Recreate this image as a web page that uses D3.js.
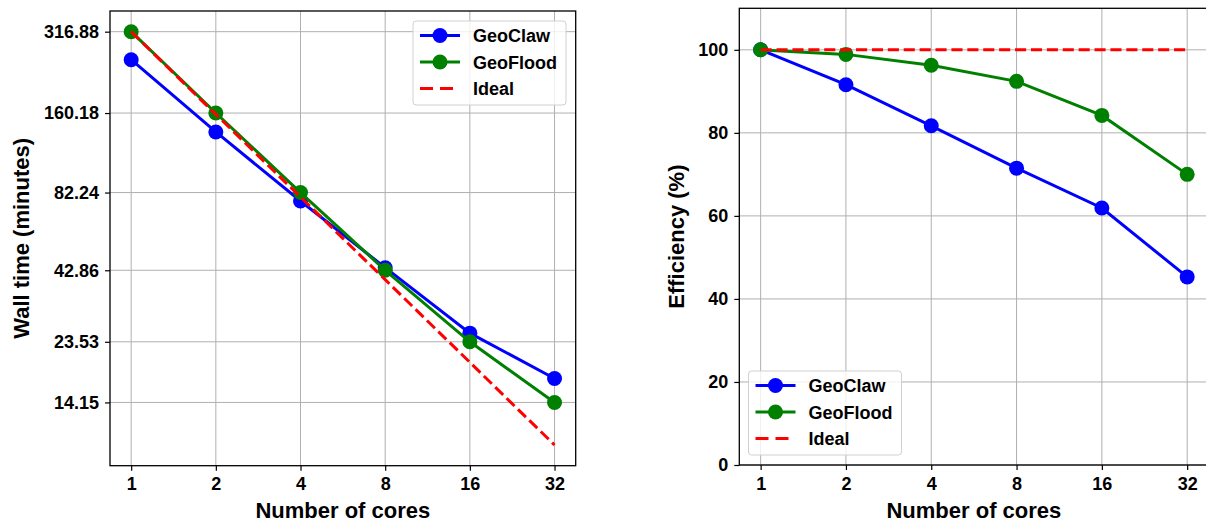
<!DOCTYPE html>
<html>
<head>
<meta charset="utf-8">
<script src="https://cdn.jsdelivr.net/npm/d3@7"></script>
<style>
body { margin: 0; background: #fff; }
text { font-family: "Liberation Sans", Arial, sans-serif; font-weight: bold; fill: #000; }
.grid line { stroke: #b0b0b0; stroke-width: 1; }
</style>
</head>
<body>
<script>
// data
var cores = [1, 2, 4, 8, 16, 32];
var coreLabels = ["1", "2", "4", "8", "16", "32"];
var geoclawTime = [250.5, 136.7, 76.6, 43.8, 25.3, 17.3];
var geofloodTime = [316.88, 160.18, 82.24, 42.86, 23.53, 14.15];
var idealTime = [316.88, 158.44, 79.22, 39.61, 19.805, 9.9025];
var timeTicks = [316.88, 160.18, 82.24, 42.86, 23.53, 14.15];
var geoclawEff = [100, 91.6, 81.7, 71.5, 61.9, 45.3];
var geofloodEff = [100, 98.9, 96.3, 92.4, 84.2, 70.0];
var idealEff = [100, 100, 100, 100, 100, 100];
var effTicks = [0, 20, 40, 60, 80, 100];

var W = 1206, H = 524;
var svg = d3.select("body").append("svg").attr("width", W).attr("height", H);

var series = [
  {name: "GeoClaw", color: "#0000ff", marker: true, dash: null},
  {name: "GeoFlood", color: "#008000", marker: true, dash: null},
  {name: "Ideal", color: "#ff0000", marker: false, dash: "11.1,4.8"}
];

function panel(opts) {
  var x = d3.scaleLog().base(2).domain([Math.pow(2, -0.25), Math.pow(2, 5.25)]).range([opts.x0, opts.x1]);
  var y = opts.y;
  var g = svg.append("g");

  // grid
  var grid = g.append("g").attr("class", "grid");
  grid.selectAll(".vx").data(cores).enter().append("line")
    .attr("x1", d => x(d)).attr("x2", d => x(d))
    .attr("y1", opts.y0).attr("y2", opts.y1);
  grid.selectAll(".hy").data(opts.ticks).enter().append("line")
    .attr("x1", opts.x0).attr("x2", opts.x1)
    .attr("y1", d => y(d)).attr("y2", d => y(d));

  // axes
  var xAxis = d3.axisBottom(x).tickValues(cores).tickFormat((d, i) => coreLabels[i])
    .tickSizeOuter(0).tickSizeInner(5).tickPadding(7);
  var yAxis = d3.axisLeft(y).tickValues(opts.ticks).tickFormat(opts.fmt)
    .tickSizeOuter(0).tickSizeInner(5).tickPadding(6);
  var gx = g.append("g").attr("transform", "translate(0," + opts.y1 + ")").call(xAxis);
  var gy = g.append("g").attr("transform", "translate(" + opts.x0 + ",0)").call(yAxis);
  [gx, gy].forEach(function(a) {
    a.select(".domain").remove();
    a.selectAll("line").attr("stroke", "#000").attr("stroke-width", 1.2);
    a.selectAll("text").style("font-size", "18px");
  });

  // lines
  var vals = opts.values;
  series.forEach(function(s, si) {
    var pts = cores.map((c, i) => [x(c), y(vals[si][i])]);
    g.append("path")
      .attr("d", d3.line()(pts))
      .attr("fill", "none")
      .attr("stroke", s.color)
      .attr("stroke-width", 3)
      .attr("stroke-dasharray", s.dash);
    if (s.marker) {
      g.selectAll(null).data(pts).enter().append("circle")
        .attr("cx", d => d[0]).attr("cy", d => d[1]).attr("r", 7.5)
        .attr("fill", s.color);
    }
  });

  // frame
  g.append("rect")
    .attr("x", opts.x0).attr("y", opts.y0)
    .attr("width", opts.x1 - opts.x0).attr("height", opts.y1 - opts.y0)
    .attr("fill", "none").attr("stroke", "#000").attr("stroke-width", 1.3);

  // labels
  g.append("text")
    .attr("x", (opts.x0 + opts.x1) / 2).attr("y", 518)
    .attr("text-anchor", "middle").style("font-size", "22px")
    .text("Number of cores");
  g.append("text")
    .attr("transform", "translate(" + opts.ylabX + "," + ((opts.y0 + opts.y1) / 2) + ") rotate(-90)")
    .attr("text-anchor", "middle").style("font-size", "22px")
    .text(opts.ylabel);

  // legend
  var lg = g.append("g").attr("transform", "translate(" + opts.lx + "," + opts.ly + ")");
  lg.append("rect").attr("width", 153).attr("height", 84).attr("rx", 3)
    .attr("fill", "#fff").attr("fill-opacity", 0.8)
    .attr("stroke", "#d0d0d0").attr("stroke-width", 1);
  series.forEach(function(s, i) {
    var cy = 14.5 + i * 26.5;
    lg.append("line").attr("x1", 7).attr("x2", 47).attr("y1", cy).attr("y2", cy)
      .attr("stroke", s.color).attr("stroke-width", 3).attr("stroke-dasharray", s.dash ? "13,7" : null);
    if (s.marker) lg.append("circle").attr("cx", 27).attr("cy", cy).attr("r", 7.5).attr("fill", s.color);
    lg.append("text").attr("x", 60).attr("y", cy + 6.5).style("font-size", "18px").text(s.name);
  });
}

var yTime = d3.scaleLog()
  .domain([Math.pow(10, 0.9204), Math.pow(10, 2.5762)])
  .range([465.7, 11]);
panel({
  x0: 110, x1: 575.7, y0: 11, y1: 465.7, y: yTime, ticks: timeTicks,
  fmt: d => d.toFixed(2), values: [geoclawTime, geofloodTime, idealTime],
  ylabel: "Wall time (minutes)", ylabX: 29, lx: 413, ly: 21
});

var yEff = d3.scaleLinear().domain([0, 110]).range([465, 8.3]);
panel({
  x0: 739.3, x1: 1208.5, y0: 8.3, y1: 465, y: yEff, ticks: effTicks,
  fmt: d => d, values: [geoclawEff, geofloodEff, idealEff],
  ylabel: "Efficiency (%)", ylabX: 684, lx: 748.5, ly: 371
});
</script>
</body>
</html>
